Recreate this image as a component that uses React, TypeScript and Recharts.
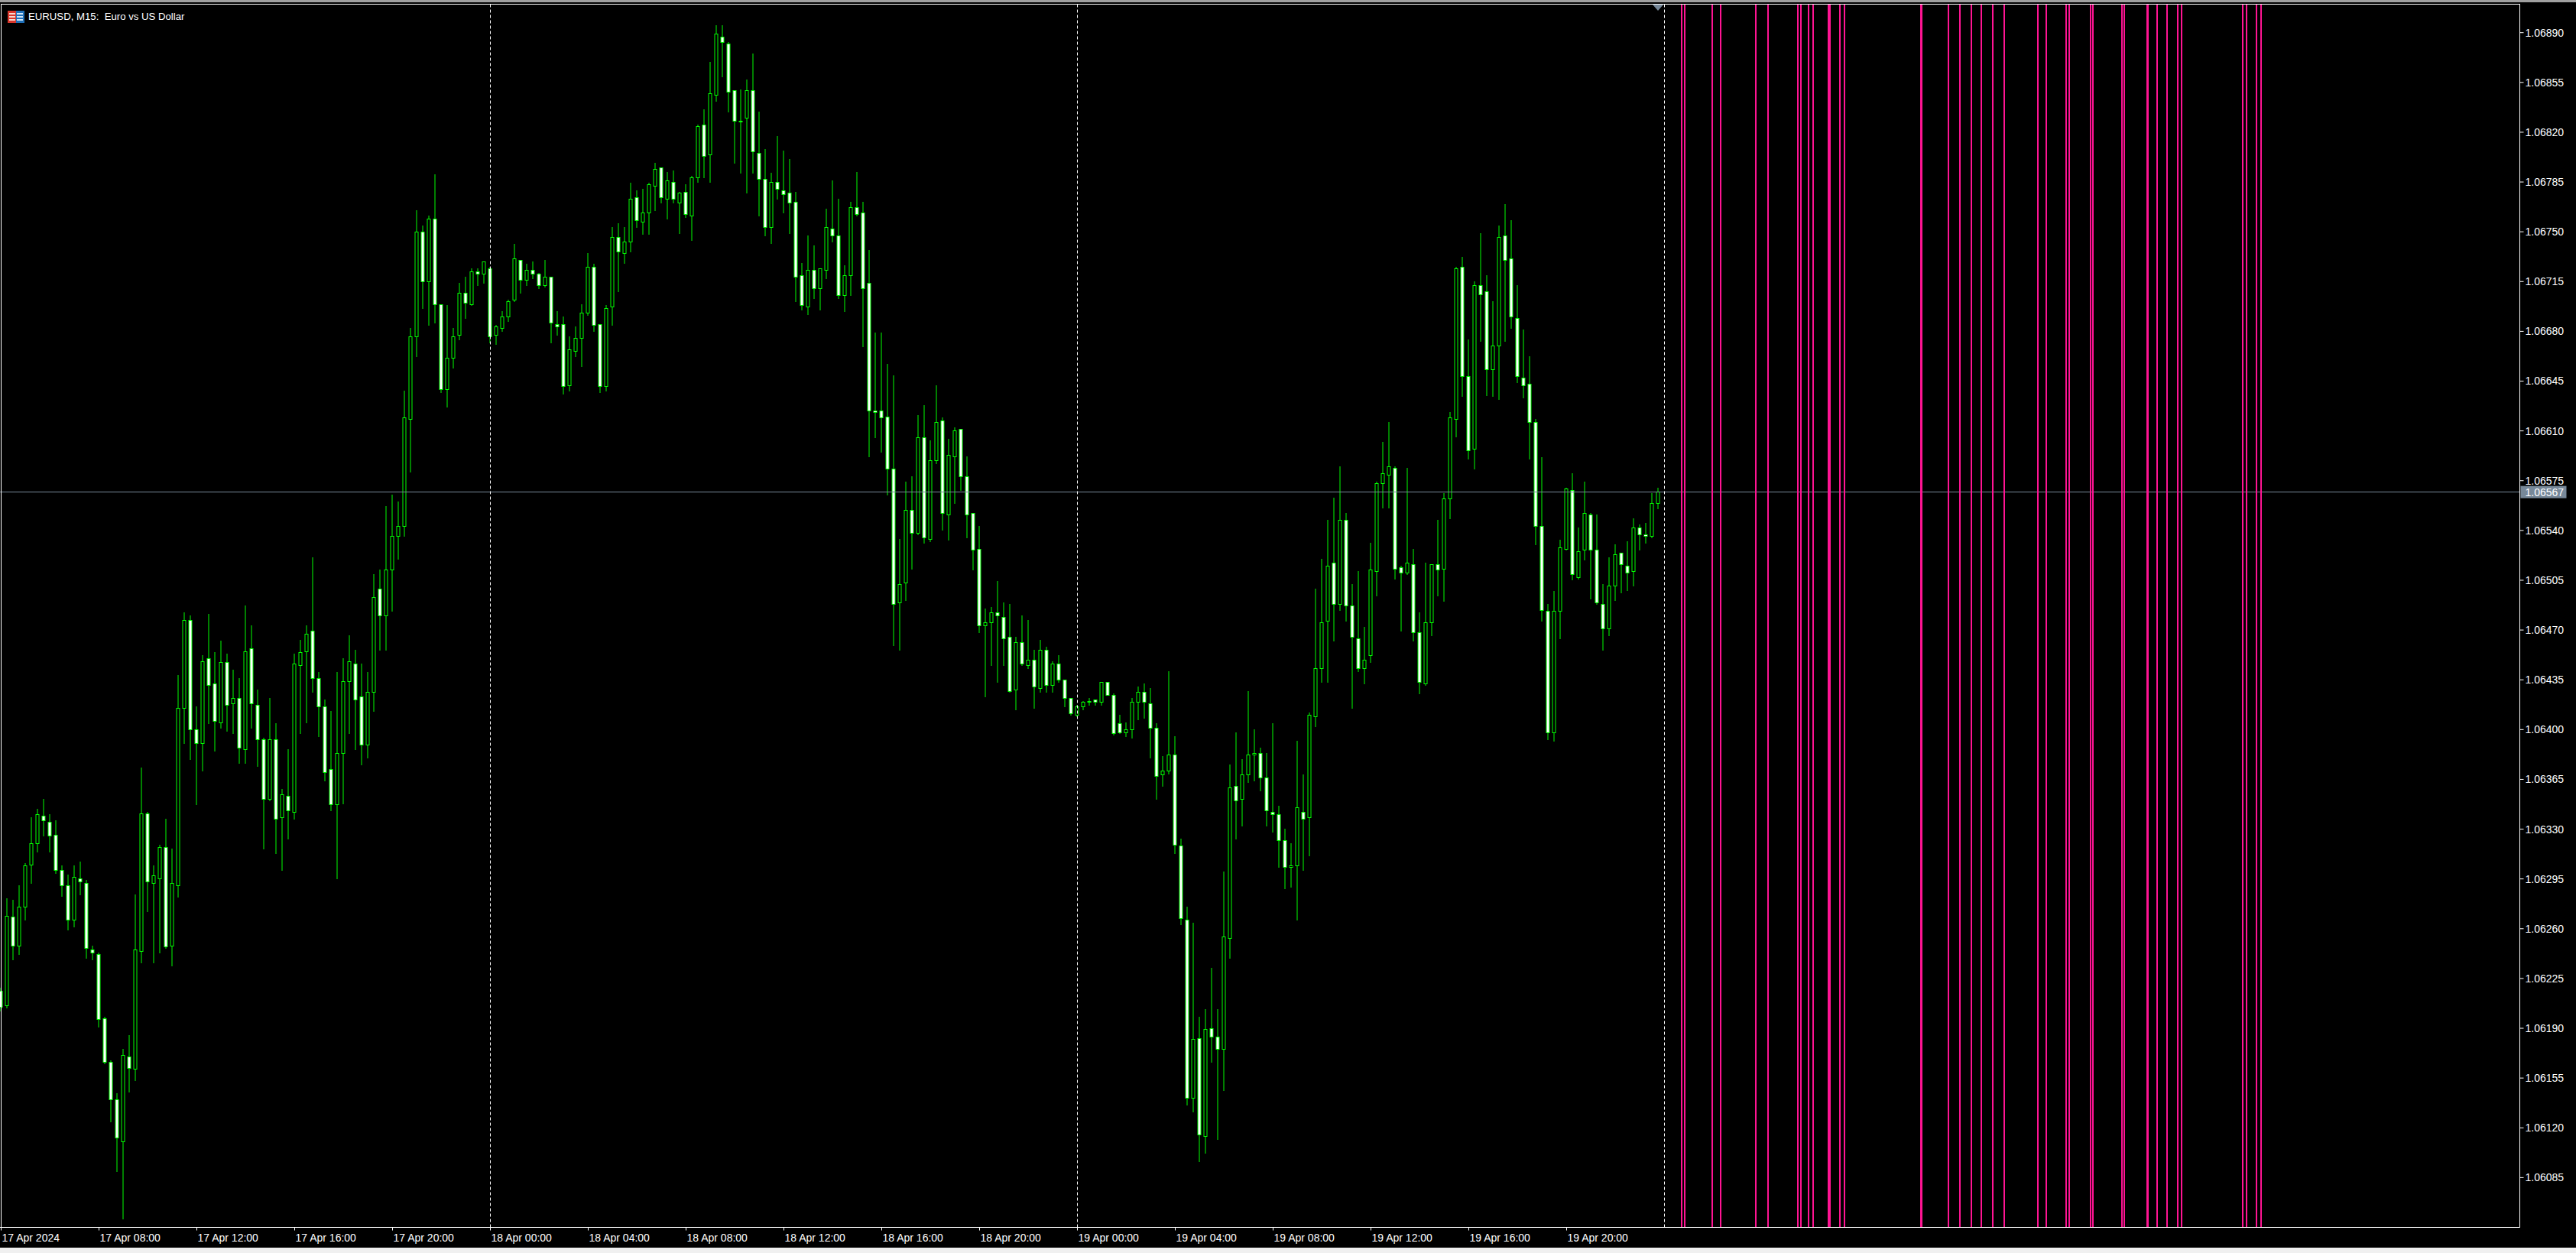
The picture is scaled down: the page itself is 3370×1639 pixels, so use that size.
import { ComposedChart, Bar, XAxis, YAxis, ReferenceLine } from 'recharts';

// EURUSD M15, prices in points (1.06567 = 106567). Index = 15 minute bar from 17 Apr 2024 04:00
const opens = [
  106216,106206,106268,106248,106275,106305,106320,106339,106335,106326,
  106301,106290,106266,106295,106292,106245,106242,106197,106166,106140,
  106110,106170,106161,106244,106341,106292,106295,106317,106248,106290,
  106415,106477,106400,106390,106450,106432,106405,106447,106418,106422,
  106386,106457,106417,106393,106351,106393,106338,106353,106342,106445,
  106455,106469,106436,106416,106372,106347,106383,106434,106446,106423,
  106389,106426,106499,106480,106512,106536,106543,106618,106676,106750,
  106715,106759,106699,106639,106661,106677,106707,106699,106722,106720,
  106724,106677,106682,106690,106702,106730,106716,106723,106720,106712,
  106718,106685,106685,106642,106666,106675,106693,106725,106685,106641,
  106697,106746,106735,106743,106774,106757,106763,106782,106795,106773,
  106785,106770,106778,106761,106788,106825,106804,106846,106887,106882,
  106849,106828,106830,106849,106805,106787,106753,106785,106779,106777,
  106771,106719,106697,106723,106710,106723,106752,106747,106705,106719,
  106767,106763,106714,106624,106624,106620,106583,106489,106503,106554,
  106538,106605,106534,106589,106617,106551,106592,106611,106578,106552,
  106527,106473,106475,106482,106479,106465,106428,106461,106445,106449,
  106429,106456,106431,106446,106435,106422,106410,106416,106419,106421,
  106419,106433,106424,106404,106398,106400,106419,106426,106418,106401,
  106368,106371,106382,106318,106266,106141,106183,106114,106190,106184,
  106175,106253,106360,106351,106368,106382,106383,106366,106342,106340,
  106322,106303,106304,106342,106338,106409,106443,106476,106517,106488,
  106547,106487,106464,106443,106452,106511,106573,106579,106584,106514,
  106510,106516,106468,106432,106475,106516,106513,106562,106618,106725,
  106648,106597,106712,106708,106653,106670,106747,106731,106689,106647,
  106643,106616,106543,106483,106398,106483,106527,106568,106507,106526,
  106551,106526,106488,106471,106501,106524,106515,106511,106542,106537,
  106536,106559,
];
const highs = [
  106218,106281,106280,106290,106306,106338,106344,106351,106340,106336,
  106304,106298,106304,106307,106294,106248,106243,106198,106167,106144,
  106175,106185,106284,106373,106342,106304,106319,106337,106316,106438,
  106482,106480,106416,106452,106481,106454,106462,106453,106442,106436,
  106487,106473,106428,106394,106422,106404,106358,106386,106453,106463,
  106473,106521,106440,106421,106413,106440,106450,106466,106456,106446,
  106440,106509,106512,106557,106565,106560,106638,106682,106765,106754,
  106761,106790,106699,106698,106682,106714,106718,106724,106724,106729,
  106725,106684,106694,106702,106741,106730,106727,106729,106721,106730,
  106718,106694,106690,106676,106683,106699,106735,106727,106685,106698,
  106753,106756,106753,106784,106779,106780,106784,106798,106795,106792,
  106793,106778,106783,106789,106825,106836,106869,106895,106895,106883,
  106849,106850,106857,106875,106834,106808,106791,106817,106807,106801,
  106778,106728,106747,106740,106724,106766,106786,106773,106726,106771,
  106792,106771,106737,106679,106679,106657,106649,106534,106574,106578,
  106621,106628,106603,106642,106619,106604,106612,106611,106592,106552,
  106543,106485,106486,106504,106489,106488,106465,106480,106477,106456,
  106463,106458,106448,106452,106435,106422,106417,106420,106422,106421,
  106433,106433,106425,106410,106405,106422,106430,106432,106429,106404,
  106381,106441,106395,106323,106275,106264,106198,106203,106232,106203,
  106300,106375,106398,106379,106427,106400,106387,106383,106404,106346,
  106330,106320,106392,106368,106412,106499,106520,106547,106563,106585,
  106552,106502,106511,106472,106531,106574,106602,106616,106585,106515,
  106584,106527,106482,106517,106516,106547,106566,106623,106725,106732,
  106674,106715,106749,106719,106701,106754,106769,106758,106712,106681,
  106662,106618,106591,106488,106497,106533,106570,106580,106542,106574,
  106552,106551,106502,106521,106530,106524,106532,106548,106544,106545,
  106566,106570,
];
const lows = [
  106202,106204,106238,106242,106266,106292,106314,106325,106314,106299,
  106283,106259,106261,106284,106239,106238,106191,106165,106124,106089,
  106056,106145,106153,106236,106272,106236,106243,106246,106234,106282,
  106390,106379,106347,106371,106404,106385,106401,106399,106397,106376,
  106376,106401,106374,106316,106350,106313,106301,106323,106337,106397,
  106405,106426,106395,106364,106343,106295,106348,106397,106386,106375,
  106380,106413,106456,106456,106483,106520,106536,106581,106662,106696,
  106684,106686,106637,106627,106654,106674,106689,106698,106712,106714,
  106672,106671,106680,106687,106701,106707,106712,106717,106710,106711,
  106672,106677,106636,106638,106662,106655,106691,106680,106637,106638,
  106684,106708,106728,106736,106753,106748,106748,106765,106770,106759,
  106770,106749,106760,106744,106785,106788,106785,106842,106859,106834,
  106798,106791,106777,106791,106761,106747,106742,106773,106763,106749,
  106701,106695,106692,106703,106695,106717,106743,106703,106694,106705,
  106761,106669,106592,106605,106595,106565,106459,106456,106491,106513,
  106537,106531,106532,106587,106540,106533,106559,106568,106535,106512,
  106468,106423,106445,106433,106445,106426,106414,106445,106443,106415,
  106426,106426,106426,106433,106416,106410,106409,106414,106417,106417,
  106417,106424,106396,106397,106395,106394,106407,106408,106380,106351,
  106360,106369,106313,106263,106136,106131,106096,106102,106166,106112,
  106146,106239,106323,106332,106363,106364,106357,106332,106328,106303,
  106288,106289,106266,106301,106311,106402,106433,106433,106462,106484,
  106476,106415,106441,106432,106447,106494,106556,106556,106506,106469,
  106509,106462,106425,106431,106466,106494,106490,106548,106606,106634,
  106590,106583,106673,106635,106634,106632,106673,106682,106644,106633,
  106590,106530,106476,106393,106392,106464,106526,106505,106506,106519,
  106492,106488,106456,106466,106491,106496,106498,106501,106526,106531,
  106535,106555,
];
const closes = [
  106205,106269,106248,106275,106304,106320,106340,106336,106325,106301,
  106290,106266,106296,106293,106246,106243,106196,106166,106140,106113,
  106171,106162,106245,106341,106293,106297,106317,106247,106292,106415,
  106477,106400,106390,106448,106431,106406,106447,106417,106422,106387,
  106455,106418,106393,106351,106393,106337,106354,106343,106446,106454,
  106467,106436,106416,106370,106347,106383,106434,106448,106421,106389,
  106426,106493,106480,106512,106536,106543,106619,106676,106750,106715,
  106759,106699,106639,106661,106676,106707,106700,106722,106720,106729,
  106676,106683,106690,106701,106731,106716,106723,106720,106712,106718,
  106686,106683,106641,106667,106675,106693,106725,106684,106641,106696,
  106746,106736,106743,106773,106758,106763,106783,106794,106774,106786,
  106773,106777,106762,106788,106824,106803,106847,106889,106883,106848,
  106828,106827,106849,106806,106787,106753,106785,106780,106776,106770,
  106718,106698,106723,106710,106724,106753,106747,106705,106719,106767,
  106762,106710,106624,106623,106619,106583,106488,106502,106554,106538,
  106605,106535,106589,106616,106552,106593,106610,106578,106551,106526,
  106473,106475,106482,106480,106464,106427,106461,106446,106449,106430,
  106456,106431,106446,106435,106422,106411,106416,106419,106420,106419,
  106433,106424,106397,106398,106400,106419,106426,106419,106401,106367,
  106371,106382,106319,106267,106141,106182,106115,106189,106184,106175,
  106254,106359,106350,106368,106382,106383,106366,106343,106340,106322,
  106303,106304,106345,106337,106410,106443,106475,106515,106488,106547,
  106487,106465,106443,106449,106512,106573,106580,106585,106513,106510,
  106517,106468,106433,106475,106516,106512,106562,106619,106724,106648,
  106596,106712,106706,106653,106670,106746,106730,106690,106648,106642,
  106616,106543,106484,106398,106483,106528,106569,106509,106525,106552,
  106526,106489,106471,106501,106523,106516,106510,106542,106537,106536,
  106559,106567,
];

const timeTickBars = [0, 16, 32, 48, 64, 80, 96, 112, 128, 144, 160, 176, 192, 208, 224, 240, 256];
const timeTickLabels = [
  '17 Apr 2024', '17 Apr 08:00', '17 Apr 12:00', '17 Apr 16:00', '17 Apr 20:00',
  '18 Apr 00:00', '18 Apr 04:00', '18 Apr 08:00', '18 Apr 12:00', '18 Apr 16:00', '18 Apr 20:00',
  '19 Apr 00:00', '19 Apr 04:00', '19 Apr 08:00', '19 Apr 12:00', '19 Apr 16:00', '19 Apr 20:00',
];
const priceTicks = [
  106890, 106855, 106820, 106785, 106750, 106715, 106680, 106645, 106610, 106575, 106540, 106505,
  106470, 106435, 106400, 106365, 106330, 106295, 106260, 106225, 106190, 106155, 106120, 106085,
];
const daySeparators = [80, 176, 272];
// pink event lines, in fractional bars on the time axis
const eventBars = [
  274.8125, 275.3125, 279.8125, 281.1875, 286.9375, 288.9375, 293.8125, 294.3125, 295.5625, 296.3125,
  298.8125, 299.0625, 300.6875, 301.4375, 313.9375, 314.0625, 318.4375, 320.3125, 322.1875, 323.8125,
  325.6875, 327.5625, 333.0625, 334.4375, 337.6875, 338.1875, 341.6875, 342.0625, 346.8125, 347.1875,
  350.9375, 351.0625, 352.5625, 354.1875, 355.9375, 356.5625, 366.5625, 367.1875, 368.8125, 369.5625,
];
const bidPrice = 106567;

const candles = opens.map((open, i) => ({ bar: i, open, high: highs[i], low: lows[i], close: closes[i] }));

const FONT = '"Liberation Sans", Arial, sans-serif';
const GREEN = '#00ff00';
const SLATE = '#778899';

const fmtPrice = (v: number) => (v / 100000).toFixed(5);
const crisp = (v: number) => Math.floor(v) + 0.5;

function Candle(props: any) {
  const { x, y, width, height, payload } = props;
  const { open, high, low, close } = payload;
  const cx = x + width / 2;
  const yOf = (v: number) => y + ((high - v) / (high - low)) * height;
  const top = crisp(yOf(Math.max(open, close)));
  const bottom = crisp(yOf(Math.min(open, close)));
  const up = close > open;
  return (
    <g>
      <line x1={cx} x2={cx} y1={Math.floor(y)} y2={Math.ceil(y + height)} stroke={GREEN} strokeWidth={1} />
      <rect
        x={cx - 2}
        y={top}
        width={4}
        height={Math.max(bottom - top, 1)}
        fill={up ? '#000' : '#fff'}
        stroke={GREEN}
        strokeWidth={1}
      />
    </g>
  );
}

function TimeTick(props: any) {
  const { x, y, payload } = props;
  const label = timeTickLabels[timeTickBars.indexOf(payload.value)];
  return (
    <text x={x + 1} y={y + 12} fill="#fff" fontSize={14} fontFamily={FONT} textAnchor="start">
      {label}
    </text>
  );
}

function BidLabel(props: any) {
  const { viewBox } = props;
  const x = viewBox.x + viewBox.width;
  const y = viewBox.y;
  return (
    <g>
      <rect x={x + 1} y={y - 8} width={60} height={16} fill={SLATE} />
      <text x={x + 7} y={y + 5} fill="#fff" fontSize={14} fontFamily={FONT}>
        {fmtPrice(bidPrice)}
      </text>
    </g>
  );
}

export default function App() {
  return (
    <div style={{ position: 'absolute', left: 0, top: 0, width: 3370, height: 1639, background: '#f0f0f0', overflow: 'hidden' }}>
      <div style={{ position: 'absolute', left: 0, top: 3, width: 3370, height: 1629, background: '#000' }} />
      <div style={{ position: 'absolute', left: 0, top: 0, width: 3370, height: 3, background: '#a0a0a0' }} />
      <div style={{ position: 'absolute', left: 0, top: 0 }}>
        <ComposedChart
          width={3370}
          height={1639}
          data={candles}
          margin={{ top: 5.5, right: 0, bottom: 0, left: 0 }}
          barCategoryGap={0}
        >
          <XAxis
            dataKey="bar"
            type="number"
            domain={[-0.1875, 411.875]}
            ticks={timeTickBars}
            interval={0}
            height={33.5}
            stroke="#fff"
            tickSize={4}
            tickMargin={2}
            tick={TimeTick}
            allowDataOverflow
          />
          <YAxis
            orientation="right"
            type="number"
            domain={[106050, 106910]}
            ticks={priceTicks}
            interval={0}
            width={73.5}
            stroke="#fff"
            tickSize={5}
            tickMargin={2}
            tick={{ fill: '#fff', fontSize: 14, fontFamily: FONT, textAnchor: 'start' }}
            tickFormatter={fmtPrice}
            allowDataOverflow
          />
          <ReferenceLine y={bidPrice} stroke={SLATE} strokeWidth={1} label={BidLabel} />
          {daySeparators.map((b) => (
            <ReferenceLine key={b} x={b} stroke="#fff" strokeWidth={1} strokeDasharray="4 3" />
          ))}
          {eventBars.map((b) => (
            <ReferenceLine key={b} x={b} stroke="#ff1493" strokeWidth={2} />
          ))}
          <Bar
            dataKey={(d: any) => [d.low, d.high]}
            barSize={5}
            shape={Candle}
            isAnimationActive={false}
          />
        </ComposedChart>
      </div>
      {/* left and top frame lines */}
      <div style={{ position: 'absolute', left: 1, top: 5, width: 3296, height: 1600, borderLeft: '1px solid #fff', borderTop: '1px solid #fff', boxSizing: 'border-box', pointerEvents: 'none' }} />
      {/* shift marker */}
      <svg style={{ position: 'absolute', left: 2160, top: 6 }} width={18} height={10}>
        <polygon points="2,0 16,0 9,8" fill={SLATE} />
      </svg>
      {/* title with flag icon */}
      <svg style={{ position: 'absolute', left: 10, top: 14 }} width={22} height={16}>
        <rect width={11} height={16} fill="#d9372c" />
        <rect x={11} width={11} height={16} fill="#1e6fb8" />
        <rect x={2} y={3} width={8} height={2} fill="#f8d8d0" />
        <rect x={2} y={7} width={8} height={2} fill="#f8d8d0" />
        <rect x={2} y={11} width={8} height={2} fill="#f8d8d0" />
        <rect x={12} y={3} width={8} height={2} fill="#cfe6f8" />
        <rect x={12} y={7} width={8} height={2} fill="#cfe6f8" />
        <rect x={12} y={11} width={8} height={2} fill="#cfe6f8" />
      </svg>
      <div style={{ position: 'absolute', left: 37, top: 13, color: '#fff', fontFamily: FONT, fontSize: 13.2, lineHeight: '18px', whiteSpace: 'pre' }}>
        {'EURUSD, M15:  Euro vs US Dollar'}
      </div>
    </div>
  );
}
